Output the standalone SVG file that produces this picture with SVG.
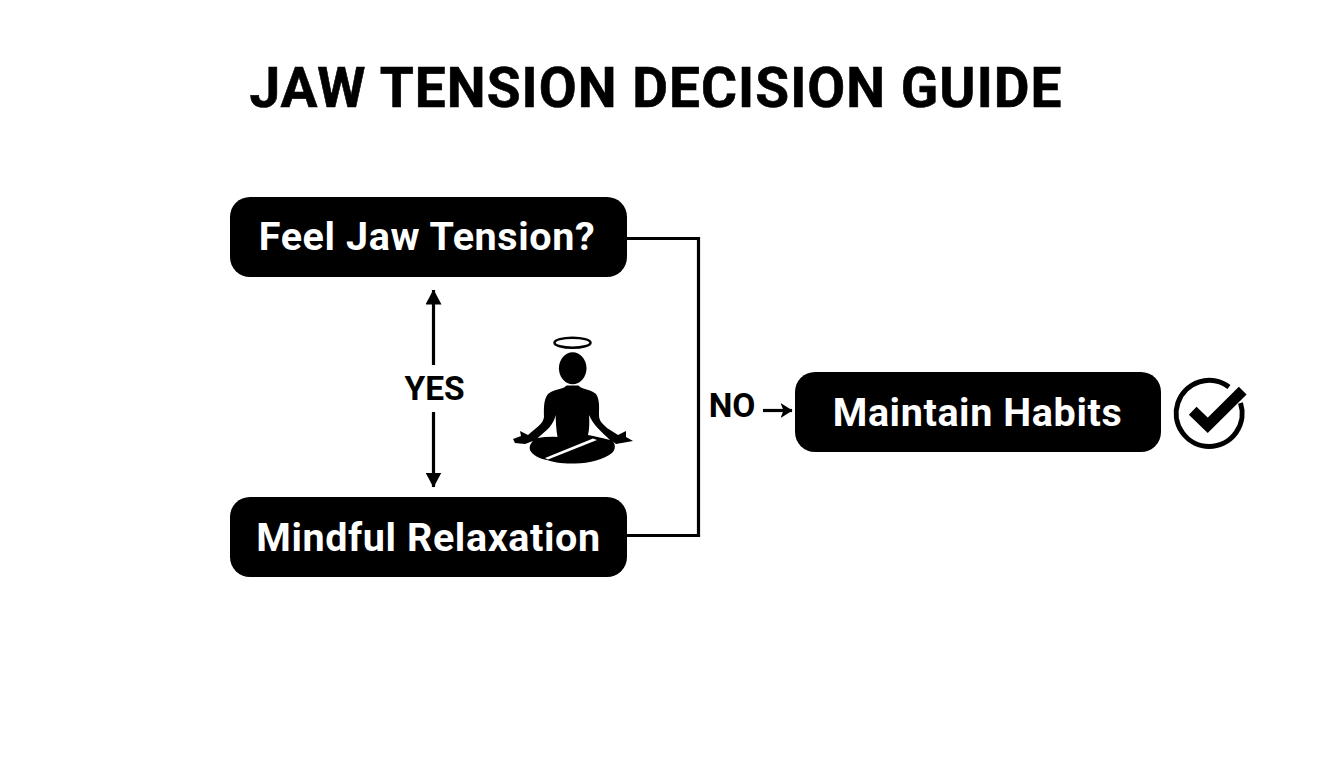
<svg xmlns="http://www.w3.org/2000/svg" width="1344" height="768" viewBox="0 0 1344 768">
<defs>
<marker id="a" viewBox="0 0 15 16" refX="14.500" refY="8" markerWidth="15" markerHeight="16" markerUnits="userSpaceOnUse" orient="auto-start-reverse"><path d="M0 0L15 8L0 16z" fill="#000"/></marker>
<marker id="b" viewBox="0 0 12 15" refX="11.500" refY="7.500" markerWidth="12" markerHeight="15" markerUnits="userSpaceOnUse" orient="auto"><path d="M0 0L12 7.500L0 15L3 7.500z" fill="#000"/></marker>
</defs>
<style>
text{font-family:Roboto,"Liberation Sans",sans-serif;font-weight:700;text-anchor:middle}
.n{fill:#000}
.t{fill:#fff;font-size:39.5px;letter-spacing:.6px}
.l{fill:#000;font-size:33.500px}
.c{fill:none;stroke:#000;stroke-width:3.200}
</style>
<rect width="1344" height="768" fill="#fff"/>
<text id="title" x="656" y="107" font-size="55" letter-spacing="1.050" stroke="#000" stroke-width=".6" fill="#000">JAW TENSION DECISION GUIDE</text>
<g id="connectors">
<path class="c" d="M626 238.500H698.500V535.500H626"/>
<path class="c" d="M433.500 365V290" marker-end="url(#a)"/>
<path class="c" d="M433.500 412V487" marker-end="url(#a)"/>
<path class="c" d="M763 410.500H792" marker-end="url(#b)"/>
<text class="l" x="434.500" y="400">YES</text>
<text class="l" x="732" y="417">NO</text>
</g>
<g id="node-feel"><rect class="n" x="230" y="197" width="397" height="80" rx="20"/><text class="t" x="427" y="250">Feel Jaw Tension?</text></g>
<g id="node-mindful"><rect class="n" x="230" y="497" width="397" height="80" rx="20"/><text class="t" x="428.500" y="550.500">Mindful Relaxation</text></g>
<g id="node-maintain"><rect class="n" x="795" y="372" width="366" height="80" rx="20"/><text class="t" x="977.500" y="426">Maintain Habits</text></g>
<g id="icon-meditation">
<ellipse cx="572.500" cy="342.700" rx="18" ry="5" fill="none" stroke="#000" stroke-width="2.500"/>
<ellipse cx="572.700" cy="368.300" rx="13.800" ry="16" fill="#000"/>
<path fill="#000" d="M566.500 385.500C563 390 553 389 548 394C543 400 544 411 544 417C543 423 540 425 528 435L520 431L521 436L513 439L515 443L525 444L533 441C530 444 529 447 530 450C532 455 540 459 547 460C555 463 565 463.500 575 463.500C590 463.500 604 459 612 453C616 449 616 443 611 440L616 444L633 441L626 437L626 431L618 435L607 428C602 423 599 421 599 415C599 408 600 400 596 394C591 389 582 390 578.500 385.500Z"/>
<path fill="#fff" d="M555.500 415C554 425 546 431 537.500 438C544 437 551 436.500 557.500 437C556 429 556 422 555.500 415Z"/>
<path fill="#fff" d="M589 415C589.500 422 589.500 428 588 435C595 436 602 438 610 440C602 432 593 425 589 415Z"/>
<path fill="#fff" d="M545 458L593 438.500L597 440L548 459.500Z"/>
</g>
<g id="icon-check">
<path d="M1229 387A33 33 0 1 0 1240.500 403" fill="none" stroke="#000" stroke-width="5"/>
<path d="M1192.700 410.700L1207.700 425.300L1242.700 390.700" fill="none" stroke="#000" stroke-width="11"/>
</g>
</svg>
